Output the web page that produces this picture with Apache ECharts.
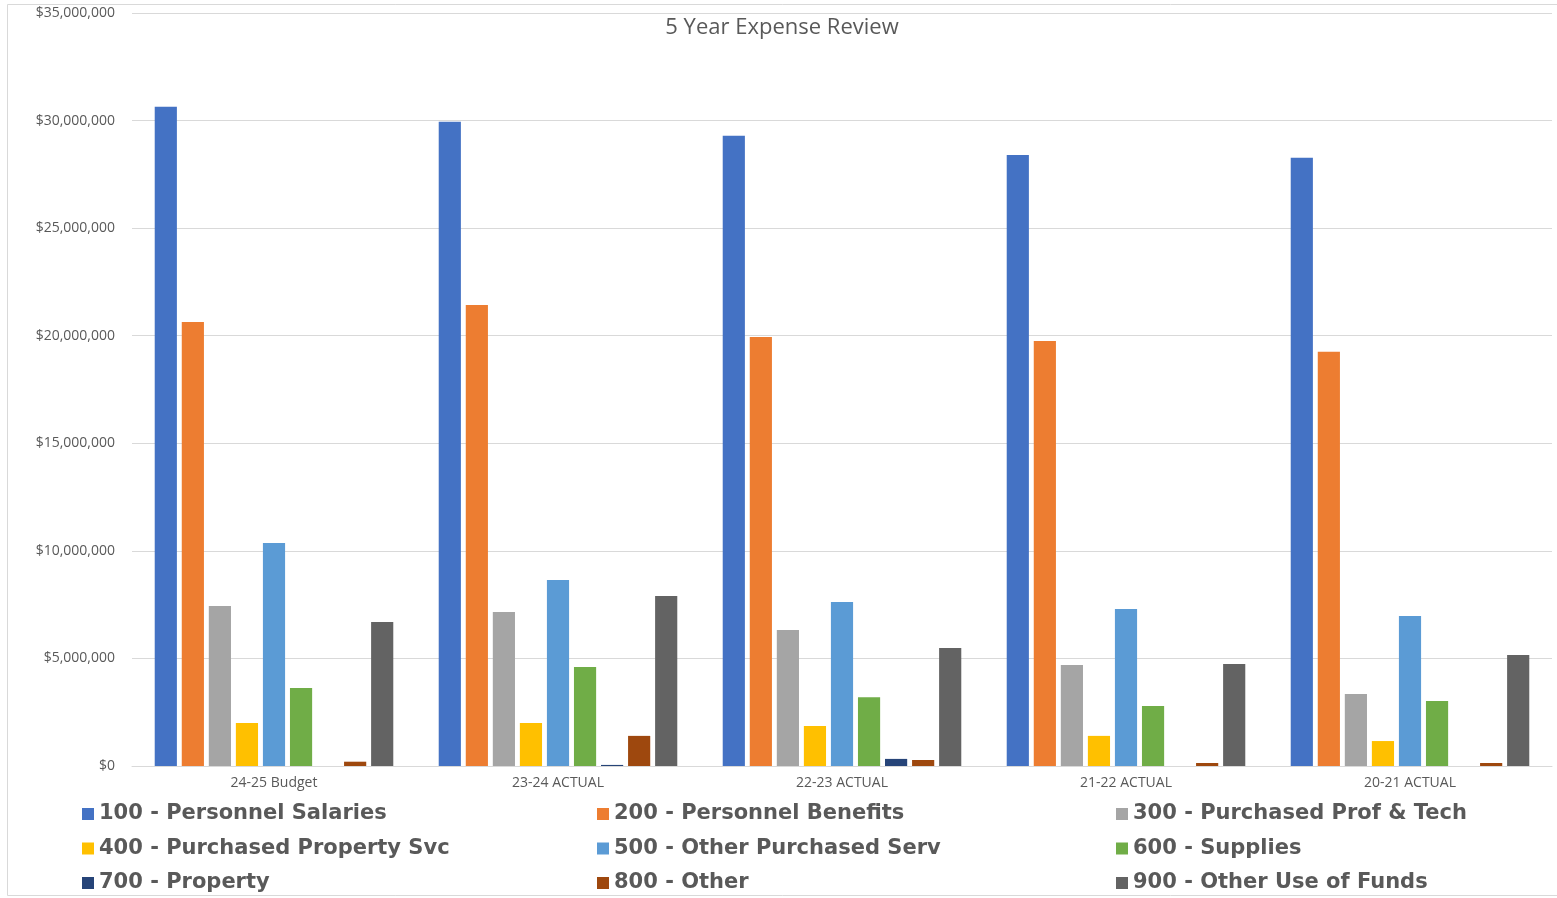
<!DOCTYPE html>
<html>
<head>
<meta charset="utf-8">
<title>5 Year Expense Review</title>
<script src="https://cdn.jsdelivr.net/npm/echarts@6/dist/echarts.min.js"></script>
<style>
  html, body { margin: 0; padding: 0; background: #ffffff; }
  #chart { width: 1557px; height: 898px; }
</style>
</head>
<body>
<div id="chart"></div>
<script>
// Fiscal years shown along the category axis
const years = ['24-25 Budget', '23-24 ACTUAL', '22-23 ACTUAL', '21-22 ACTUAL', '20-21 ACTUAL'];

// Expense codes (legend names)
const codes = [
  '100 - Personnel Salaries',
  '200 - Personnel Benefits',
  '300 - Purchased Prof & Tech',
  '400 - Purchased Property Svc',
  '500 - Other Purchased Serv',
  '600 - Supplies',
  '700 - Property',
  '800 - Other',
  '900 - Other Use of Funds'
];

// Dollar amounts per code, one value per year (same order as years)
const salaries        = [30640000, 29940000, 29290000, 28400000, 28270000];
const benefits        = [20640000, 21430000, 19940000, 19760000, 19250000];
const profTech        = [7440000, 7160000, 6320000, 4700000, 3350000];
const propertySvc     = [2000000, 2000000, 1860000, 1400000, 1160000];
const otherPurchased  = [10370000, 8650000, 7620000, 7300000, 6970000];
const supplies        = [3630000, 4600000, 3200000, 2790000, 3020000];
const property        = [0, 50000, 330000, 0, 0];
const other           = [200000, 1400000, 280000, 140000, 140000];
const otherUseOfFunds = [6690000, 7900000, 5490000, 4740000, 5160000];

const seriesValues = [salaries, benefits, profTech, propertySvc, otherPurchased,
                      supplies, property, other, otherUseOfFunds];

// Y-axis ticks
const yMin = 0;
const yMax = 35000000;
const yStep = 5000000;

const palette = ['#4472C4', '#ED7D31', '#A5A5A5', '#FFC000', '#5B9BD5',
                 '#70AD47', '#264478', '#9E480E', '#636363'];

const chart = echarts.init(document.getElementById('chart'), null, { renderer: 'canvas' });

const legendText = {
  color: '#595959',
  fontFamily: 'DejaVu Sans',
  fontWeight: 'bold',
  fontSize: 21,
  lineHeight: 22
};

// One vertical legend per column, three entries each
function legendColumn(names, left) {
  return {
    orient: 'vertical',
    left: left,
    top: 803,
    padding: 0,
    itemWidth: 12,
    itemHeight: 12,
    itemGap: 12.5,
    icon: 'rect',
    data: names,
    textStyle: legendText,
    selectedMode: false
  };
}

const option = {
  backgroundColor: '#ffffff',
  color: palette,
  animation: false,
  title: {
    text: '5 Year Expense Review',
    left: 782,
    textAlign: 'center',
    top: 17,
    padding: 0,
    textStyle: {
      color: '#595959',
      fontFamily: 'Open Sans',
      fontWeight: 'normal',
      fontSize: 22
    }
  },
  graphic: [{
    type: 'rect',
    shape: { x: 7.5, y: 4.5, width: 1560, height: 891 },
    style: { fill: 'none', stroke: '#d9d9d9', lineWidth: 1 },
    silent: true,
    z: -1
  }],
  legend: [
    legendColumn([codes[0], codes[3], codes[6]], 82),
    legendColumn([codes[1], codes[4], codes[7]], 597),
    legendColumn([codes[2], codes[5], codes[8]], 1116)
  ],
  grid: {
    left: 132,
    right: 5,
    top: 13,
    bottom: 132
  },
  xAxis: {
    type: 'category',
    data: years,
    axisLine: { lineStyle: { color: '#d9d9d9', width: 1 } },
    axisTick: { show: false },
    axisLabel: {
      color: '#595959',
      fontFamily: 'Open Sans',
      fontSize: 14,
      margin: 10
    }
  },
  yAxis: {
    type: 'value',
    min: yMin,
    max: yMax,
    interval: yStep,
    axisLine: { show: false },
    axisTick: { show: false },
    splitLine: { lineStyle: { color: '#d9d9d9', width: 1 } },
    axisLabel: {
      color: '#595959',
      fontFamily: 'Open Sans',
      fontSize: 14,
      margin: 17,
      formatter: v => '$' + v.toLocaleString('en-US')
    }
  },
  series: codes.map((name, i) => ({
    name: name,
    type: 'bar',
    data: seriesValues[i],
    barGap: '22%',
    barCategoryGap: '16%',
    itemStyle: { color: palette[i] }
  }))
};

chart.setOption(option);
</script>
</body>
</html>
